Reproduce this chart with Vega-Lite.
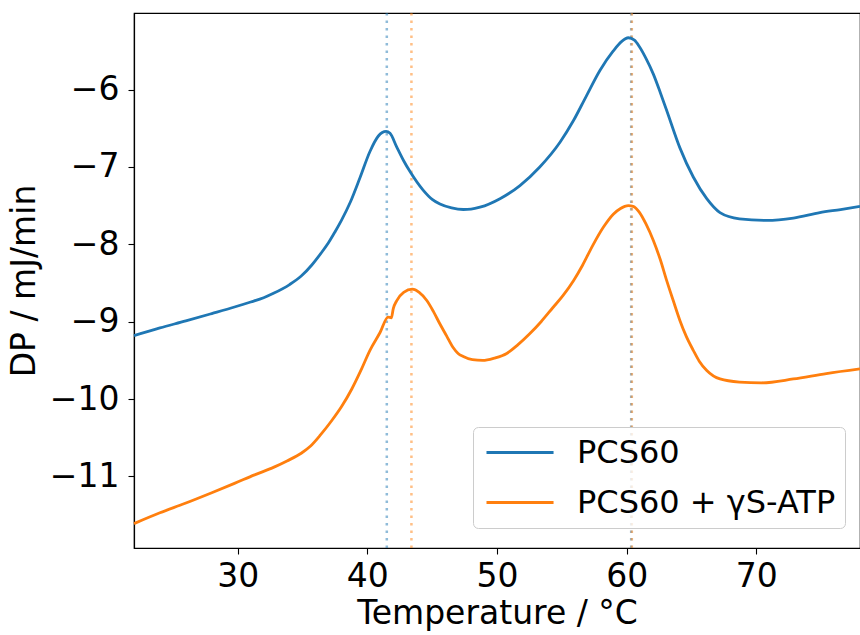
{
  "$schema": "https://vega.github.io/schema/vega-lite/v6.json",
  "autosize": "none",
  "width": 726,
  "height": 535,
  "padding": {"left": 134, "top": 13, "right": 0, "bottom": 87},
  "background": "white",
  "config": {
    "font": "DejaVu Sans",
    "view": {"stroke": "black", "strokeWidth": 1.2},
    "axis": {
      "domainColor": "black", "domainWidth": 1.2, "tickColor": "black", "tickWidth": 1.1, "tickSize": 6,
      "labelFont": "DejaVu Sans", "labelFontSize": 33, "labelColor": "black",
      "titleFont": "DejaVu Sans", "titleFontSize": 33, "titleFontWeight": "normal", "titleColor": "black",
      "grid": false
    },
    "legend": {
      "orient": "none", "legendX": 339, "legendY": 414,
      "strokeColor": "#cccccc", "fillColor": "rgba(255,255,255,0.8)", "cornerRadius": 5, "padding": 9,
      "symbolType": "M-0.8,0H3.67", "symbolSize": 900, "symbolStrokeWidth": 2.8,
      "labelFont": "DejaVu Sans", "labelFontSize": 32, "labelColor": "black", "labelOffset": 62, "labelLimit": 500,
      "rowPadding": 17, "title": null
    }
  },
  "datasets": {
    "curves": [
      {"T": 22, "DP": -9.18, "series": "PCS60"},
      {"T": 24, "DP": -9.08, "series": "PCS60"},
      {"T": 26, "DP": -8.99, "series": "PCS60"},
      {"T": 28, "DP": -8.895, "series": "PCS60"},
      {"T": 29.75, "DP": -8.81, "series": "PCS60"},
      {"T": 31, "DP": -8.745, "series": "PCS60"},
      {"T": 32, "DP": -8.69, "series": "PCS60"},
      {"T": 32.8, "DP": -8.63, "series": "PCS60"},
      {"T": 34, "DP": -8.52, "series": "PCS60"},
      {"T": 34.9, "DP": -8.41, "series": "PCS60"},
      {"T": 35.7, "DP": -8.27, "series": "PCS60"},
      {"T": 36.4, "DP": -8.12, "series": "PCS60"},
      {"T": 37.0, "DP": -7.98, "series": "PCS60"},
      {"T": 37.5, "DP": -7.84, "series": "PCS60"},
      {"T": 38.0, "DP": -7.69, "series": "PCS60"},
      {"T": 38.7, "DP": -7.45, "series": "PCS60"},
      {"T": 39.43, "DP": -7.14, "series": "PCS60"},
      {"T": 40.2, "DP": -6.80, "series": "PCS60"},
      {"T": 40.85, "DP": -6.60, "series": "PCS60"},
      {"T": 41.15, "DP": -6.555, "series": "PCS60"},
      {"T": 41.44, "DP": -6.54, "series": "PCS60"},
      {"T": 41.75, "DP": -6.565, "series": "PCS60"},
      {"T": 42.26, "DP": -6.74, "series": "PCS60"},
      {"T": 42.8, "DP": -6.92, "series": "PCS60"},
      {"T": 43.29, "DP": -7.06, "series": "PCS60"},
      {"T": 44.3, "DP": -7.30, "series": "PCS60"},
      {"T": 45.0, "DP": -7.42, "series": "PCS60"},
      {"T": 45.6, "DP": -7.48, "series": "PCS60"},
      {"T": 46.5, "DP": -7.53, "series": "PCS60"},
      {"T": 47.4, "DP": -7.55, "series": "PCS60"},
      {"T": 48.0, "DP": -7.545, "series": "PCS60"},
      {"T": 48.69, "DP": -7.52, "series": "PCS60"},
      {"T": 50.23, "DP": -7.41, "series": "PCS60"},
      {"T": 51.77, "DP": -7.24, "series": "PCS60"},
      {"T": 53.3, "DP": -7.00, "series": "PCS60"},
      {"T": 54.86, "DP": -6.68, "series": "PCS60"},
      {"T": 55.9, "DP": -6.40, "series": "PCS60"},
      {"T": 56.9, "DP": -6.08, "series": "PCS60"},
      {"T": 57.95, "DP": -5.75, "series": "PCS60"},
      {"T": 58.97, "DP": -5.50, "series": "PCS60"},
      {"T": 59.6, "DP": -5.38, "series": "PCS60"},
      {"T": 60.13, "DP": -5.33, "series": "PCS60"},
      {"T": 60.6, "DP": -5.36, "series": "PCS60"},
      {"T": 61.0, "DP": -5.45, "series": "PCS60"},
      {"T": 61.5, "DP": -5.60, "series": "PCS60"},
      {"T": 62.06, "DP": -5.80, "series": "PCS60"},
      {"T": 62.6, "DP": -6.04, "series": "PCS60"},
      {"T": 63.09, "DP": -6.27, "series": "PCS60"},
      {"T": 64.1, "DP": -6.75, "series": "PCS60"},
      {"T": 65.14, "DP": -7.13, "series": "PCS60"},
      {"T": 66.18, "DP": -7.41, "series": "PCS60"},
      {"T": 67.2, "DP": -7.59, "series": "PCS60"},
      {"T": 68.7, "DP": -7.67, "series": "PCS60"},
      {"T": 70.8, "DP": -7.69, "series": "PCS60"},
      {"T": 72.86, "DP": -7.66, "series": "PCS60"},
      {"T": 74.9, "DP": -7.59, "series": "PCS60"},
      {"T": 76.5, "DP": -7.55, "series": "PCS60"},
      {"T": 78, "DP": -7.51, "series": "PCS60"},
      {"T": 22, "DP": -11.61, "series": "PCS60 + γS-ATP"},
      {"T": 24, "DP": -11.47, "series": "PCS60 + γS-ATP"},
      {"T": 25.9, "DP": -11.35, "series": "PCS60 + γS-ATP"},
      {"T": 28, "DP": -11.21, "series": "PCS60 + γS-ATP"},
      {"T": 29.75, "DP": -11.09, "series": "PCS60 + γS-ATP"},
      {"T": 31.3, "DP": -10.98, "series": "PCS60 + γS-ATP"},
      {"T": 32.8, "DP": -10.88, "series": "PCS60 + γS-ATP"},
      {"T": 33.8, "DP": -10.80, "series": "PCS60 + γS-ATP"},
      {"T": 34.9, "DP": -10.70, "series": "PCS60 + γS-ATP"},
      {"T": 35.6, "DP": -10.61, "series": "PCS60 + γS-ATP"},
      {"T": 36.4, "DP": -10.46, "series": "PCS60 + γS-ATP"},
      {"T": 37.2, "DP": -10.29, "series": "PCS60 + γS-ATP"},
      {"T": 38.0, "DP": -10.10, "series": "PCS60 + γS-ATP"},
      {"T": 38.8, "DP": -9.87, "series": "PCS60 + γS-ATP"},
      {"T": 39.5, "DP": -9.63, "series": "PCS60 + γS-ATP"},
      {"T": 40.2, "DP": -9.37, "series": "PCS60 + γS-ATP"},
      {"T": 40.98, "DP": -9.14, "series": "PCS60 + γS-ATP"},
      {"T": 41.6, "DP": -8.94, "series": "PCS60 + γS-ATP"},
      {"T": 41.85, "DP": -8.95, "series": "PCS60 + γS-ATP"},
      {"T": 42.0, "DP": -8.83, "series": "PCS60 + γS-ATP"},
      {"T": 42.26, "DP": -8.73, "series": "PCS60 + γS-ATP"},
      {"T": 42.8, "DP": -8.62, "series": "PCS60 + γS-ATP"},
      {"T": 43.47, "DP": -8.58, "series": "PCS60 + γS-ATP"},
      {"T": 44.0, "DP": -8.62, "series": "PCS60 + γS-ATP"},
      {"T": 44.6, "DP": -8.73, "series": "PCS60 + γS-ATP"},
      {"T": 45.1, "DP": -8.87, "series": "PCS60 + γS-ATP"},
      {"T": 45.6, "DP": -9.03, "series": "PCS60 + γS-ATP"},
      {"T": 46.1, "DP": -9.18, "series": "PCS60 + γS-ATP"},
      {"T": 46.6, "DP": -9.33, "series": "PCS60 + γS-ATP"},
      {"T": 47.0, "DP": -9.41, "series": "PCS60 + γS-ATP"},
      {"T": 47.4, "DP": -9.45, "series": "PCS60 + γS-ATP"},
      {"T": 48.1, "DP": -9.49, "series": "PCS60 + γS-ATP"},
      {"T": 48.9, "DP": -9.50, "series": "PCS60 + γS-ATP"},
      {"T": 49.8, "DP": -9.47, "series": "PCS60 + γS-ATP"},
      {"T": 50.75, "DP": -9.41, "series": "PCS60 + γS-ATP"},
      {"T": 51.6, "DP": -9.30, "series": "PCS60 + γS-ATP"},
      {"T": 52.5, "DP": -9.16, "series": "PCS60 + γS-ATP"},
      {"T": 53.4, "DP": -9.00, "series": "PCS60 + γS-ATP"},
      {"T": 54.3, "DP": -8.82, "series": "PCS60 + γS-ATP"},
      {"T": 55.1, "DP": -8.66, "series": "PCS60 + γS-ATP"},
      {"T": 55.9, "DP": -8.47, "series": "PCS60 + γS-ATP"},
      {"T": 56.6, "DP": -8.27, "series": "PCS60 + γS-ATP"},
      {"T": 57.4, "DP": -8.01, "series": "PCS60 + γS-ATP"},
      {"T": 58.2, "DP": -7.78, "series": "PCS60 + γS-ATP"},
      {"T": 58.97, "DP": -7.61, "series": "PCS60 + γS-ATP"},
      {"T": 59.5, "DP": -7.54, "series": "PCS60 + γS-ATP"},
      {"T": 60.13, "DP": -7.50, "series": "PCS60 + γS-ATP"},
      {"T": 60.5, "DP": -7.51, "series": "PCS60 + γS-ATP"},
      {"T": 61.0, "DP": -7.59, "series": "PCS60 + γS-ATP"},
      {"T": 61.5, "DP": -7.74, "series": "PCS60 + γS-ATP"},
      {"T": 62.06, "DP": -7.95, "series": "PCS60 + γS-ATP"},
      {"T": 62.6, "DP": -8.20, "series": "PCS60 + γS-ATP"},
      {"T": 63.09, "DP": -8.47, "series": "PCS60 + γS-ATP"},
      {"T": 63.6, "DP": -8.73, "series": "PCS60 + γS-ATP"},
      {"T": 64.1, "DP": -8.98, "series": "PCS60 + γS-ATP"},
      {"T": 64.6, "DP": -9.19, "series": "PCS60 + γS-ATP"},
      {"T": 65.14, "DP": -9.37, "series": "PCS60 + γS-ATP"},
      {"T": 65.6, "DP": -9.51, "series": "PCS60 + γS-ATP"},
      {"T": 66.18, "DP": -9.63, "series": "PCS60 + γS-ATP"},
      {"T": 67.2, "DP": -9.74, "series": "PCS60 + γS-ATP"},
      {"T": 68.7, "DP": -9.78, "series": "PCS60 + γS-ATP"},
      {"T": 70.4, "DP": -9.79, "series": "PCS60 + γS-ATP"},
      {"T": 72.86, "DP": -9.74, "series": "PCS60 + γS-ATP"},
      {"T": 75.4, "DP": -9.67, "series": "PCS60 + γS-ATP"},
      {"T": 78, "DP": -9.61, "series": "PCS60 + γS-ATP"}
    ],
    "peaks": [
      {"T": 41.5, "series": "PCS60"},
      {"T": 43.4, "series": "PCS60 + γS-ATP"},
      {"T": 60.35, "series": "PCS60"},
      {"T": 60.4, "series": "PCS60 + γS-ATP"}
    ]
  },
  "resolve": {"scale": {"color": "independent"}},
  "layer": [
    {
      "data": {"name": "peaks"},
      "mark": {"type": "rule", "strokeWidth": 2.5, "strokeDash": [2.5, 5], "opacity": 0.5},
      "encoding": {
        "x": {"field": "T", "type": "quantitative", "scale": {"domain": [22, 78], "nice": false, "zero": false}},
        "color": {"field": "series", "type": "nominal", "scale": {"domain": ["PCS60", "PCS60 + γS-ATP"], "range": ["#1f77b4", "#ff7f0e"]}, "legend": null}
      }
    },
    {
      "data": {"name": "curves"},
      "mark": {"type": "line", "strokeWidth": 2.8, "interpolate": "monotone"},
      "encoding": {
        "x": {"field": "T", "type": "quantitative", "scale": {"domain": [22, 78], "nice": false, "zero": false},
              "axis": {"values": [30, 40, 50, 60, 70], "title": "Temperature / °C", "labelPadding": 6, "titlePadding": 4}},
        "y": {"field": "DP", "type": "quantitative", "scale": {"domain": [-11.925, -5.01], "nice": false, "zero": false},
              "axis": {"values": [-11, -10, -9, -8, -7, -6], "title": "DP / mJ/min", "labelPadding": 9, "titlePadding": 8}},
        "color": {"field": "series", "type": "nominal", "scale": {"domain": ["PCS60", "PCS60 + γS-ATP"], "range": ["#1f77b4", "#ff7f0e"]}},
        "order": {"field": "T", "type": "quantitative"}
      }
    }
  ]
}
